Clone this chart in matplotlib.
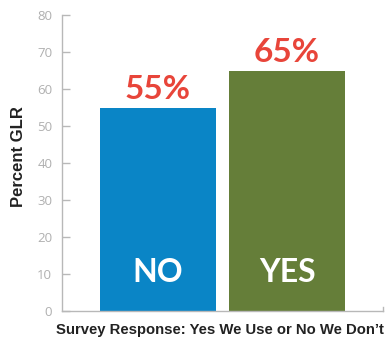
import matplotlib

matplotlib.use("Agg")

import matplotlib.pyplot as plt

categories = ["NO", "YES"]
values = [55, 65]
value_labels = ["55%", "65%"]
bar_colors = ["#0a85c6", "#657e39"]
yticks = [0, 10, 20, 30, 40, 50, 60, 70, 80]

fig = plt.figure(figsize=(3.92, 3.39), dpi=100)
ax = fig.add_axes([62 / 392, 28 / 339, 321 / 392, 296 / 339])

x = list(range(len(categories)))
ax.bar(x, values, width=0.9, color=bar_colors, zorder=2)

for xi, v, lab, cat in zip(x, values, value_labels, categories):
    ax.text(xi, v + 1.0, lab, ha="center", va="bottom", color="#e8453a",
            fontsize=24, fontweight="bold", family="Lato")
    ax.text(xi, 10.5, cat, ha="center", va="center", color="white",
            fontsize=23, fontweight="bold", family="Lato")

ax.set_xlim(-0.744, 1.744)
ax.set_ylim(0, 80)
ax.set_yticks(yticks)
ax.set_xticks([])

spine_color = "#b8b8b8"
for side in ["top", "right"]:
    ax.spines[side].set_visible(False)
for side in ["left", "bottom"]:
    ax.spines[side].set_color(spine_color)
    ax.spines[side].set_linewidth(1.0)

ax.tick_params(axis="y", direction="in", colors=spine_color, length=6,
               width=1, pad=7, labelsize=9.5, labelcolor="#b0b0b0")
for t in ax.get_yticklabels():
    t.set_family("Open Sans")

# small end tick on the x axis
ax.plot([1.744, 1.744], [0, 1.2], color=spine_color, lw=1, clip_on=False)

fig.text(19 / 392, 1 - 157 / 339, "Percent GLR", rotation=90, ha="center",
         va="center", fontsize=12, fontweight="bold", color="#222222",
         family="Liberation Sans")
fig.text(56 / 392, 9 / 339, "Survey Response: Yes We Use or No We Don\u2019t",
         ha="left", va="center", fontsize=10.7, fontweight="bold",
         color="#222222", family="Liberation Sans")

fig.savefig("out.png", dpi=100)
